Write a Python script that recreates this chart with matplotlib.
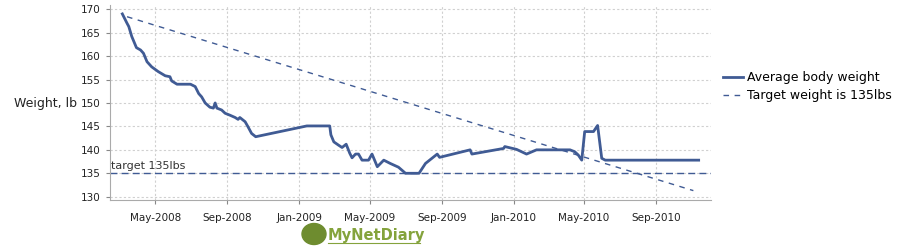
import matplotlib
matplotlib.use("Agg")
import matplotlib.dates as mdates
import matplotlib.pyplot as plt
import pandas as pd
from matplotlib.patches import Ellipse

# average body weight readings
weight_dates = [
    "2008-03-06", "2008-03-14", "2008-03-17", "2008-03-22", "2008-03-26", "2008-03-30",
    "2008-04-06", "2008-04-11", "2008-04-17", "2008-04-25", "2008-05-06", "2008-05-18",
    "2008-05-26", "2008-05-29", "2008-06-07", "2008-06-30", "2008-07-08", "2008-07-14",
    "2008-07-19", "2008-07-25", "2008-08-02", "2008-08-08", "2008-08-11", "2008-08-14",
    "2008-08-22", "2008-08-28", "2008-09-05", "2008-09-14", "2008-09-19", "2008-09-22",
    "2008-10-01", "2008-10-06", "2008-10-12", "2008-10-19", "2009-01-14", "2009-02-22",
    "2009-02-24", "2009-03-01", "2009-03-09", "2009-03-15", "2009-03-22", "2009-03-28",
    "2009-04-01", "2009-04-07", "2009-04-12", "2009-04-18", "2009-04-29", "2009-05-05",
    "2009-05-14", "2009-05-25", "2009-06-05", "2009-06-19", "2009-07-01", "2009-07-24",
    "2009-08-04", "2009-08-18", "2009-08-24", "2009-08-28", "2009-10-19", "2009-10-22",
    "2009-12-15", "2009-12-17", "2010-01-06", "2010-01-23", "2010-02-09", "2010-02-15",
    "2010-04-07", "2010-04-15", "2010-04-21", "2010-04-27", "2010-05-02", "2010-05-17",
    "2010-05-24", "2010-05-31", "2010-06-06", "2010-11-12",
]
weights = [
    169.0, 167.0, 166.3, 164.2, 163.0, 161.8,
    161.3, 160.6, 158.8, 157.7, 156.7, 155.8,
    155.6, 154.7, 154.0, 154.0, 153.5, 152.0,
    151.3, 150.0, 149.1, 148.9, 150.0, 148.9,
    148.5, 147.8, 147.4, 146.9, 146.5, 146.9,
    146.0, 144.9, 143.5, 142.8, 145.1, 145.1,
    143.2, 141.7, 141.0, 140.5, 141.2, 139.3,
    138.3, 139.1, 139.1, 137.8, 137.8, 139.1,
    136.4, 137.8, 137.1, 136.3, 135.0, 135.0,
    137.1, 138.5, 139.1, 138.4, 140.0, 139.1,
    140.3, 140.7, 140.1, 139.1, 140.0, 140.0,
    140.0, 139.6, 138.9, 137.8, 143.9, 143.9,
    145.2, 138.2, 137.8, 137.8,
]

# target line goes down from start weight to the goal
target_dates = ["2008-03-14", "2010-11-03"]
target_values = [168.4, 131.3]
goal = 135

yticks = [130, 135, 140, 145, 150, 155, 160, 165, 170]
xticks = ["2008-05-01", "2008-09-01", "2009-01-01", "2009-05-01",
          "2009-09-01", "2010-01-01", "2010-05-01", "2010-09-01"]

blue = "#405b94"
grey = "#888888"

fig = plt.figure(figsize=(9.02, 2.49), dpi=100)
ax = fig.add_axes([110 / 902, 1 - 200 / 249, 601 / 902, 195 / 249])

ax.plot(pd.to_datetime(weight_dates), weights, color=blue, lw=2,
        solid_joinstyle="round", label="Average body weight")
ax.plot(pd.to_datetime(target_dates), target_values, color=blue, lw=1,
        ls=(0, (4, 4)), label="Target weight is 135lbs")
ax.axhline(goal, color=blue, lw=1, ls=(0, (5, 3)))
ax.text(pd.Timestamp("2008-02-16"), goal + 0.4, "target 135lbs",
        fontsize=8, color="#333333", va="bottom", ha="left")

ax.set_xlim(pd.Timestamp("2008-02-14"), pd.Timestamp("2010-12-03"))
ax.set_ylim(129.3, 170.9)
ax.set_yticks(yticks)
ax.set_xticks(pd.to_datetime(xticks))
ax.xaxis.set_major_formatter(mdates.DateFormatter("%b-%Y"))
ax.tick_params(labelsize=7.5, colors=grey, labelcolor="#222222", length=3)
ax.tick_params(axis="x", pad=6)
ax.grid(True, color="#d0d0d0", ls=(0, (2, 2)), lw=0.8)

for side in ["top", "right"]:
    ax.spines[side].set_visible(False)
for side in ["left", "bottom"]:
    ax.spines[side].set_color("#aaaaaa")

fig.text(14 / 902, 1 - 103 / 249, "Weight, lb", fontsize=9,
         ha="left", va="center", color="#222222")

fig.legend(loc="upper left", bbox_to_anchor=(718 / 902, 1 - 66 / 249),
           frameon=False, fontsize=9, handlelength=1.6, handletextpad=0.3,
           labelspacing=0.4, borderaxespad=0)

# MyNetDiary logo
fig.add_artist(Ellipse((314 / 902, 1 - 234 / 249), 24 / 902, 21 / 249,
                       transform=fig.transFigure, color="#6e8c2f"))
fig.text(328 / 902, 1 - 235 / 249, "MyNetDiary", fontsize=10.5, fontweight="bold",
         family=["Liberation Sans Narrow", "DejaVu Sans"], color="#84a33c",
         ha="left", va="center")
fig.add_artist(plt.Line2D([328 / 902, 420 / 902], [1 - 243 / 249, 1 - 243 / 249],
                          transform=fig.transFigure, color="#84a33c", lw=0.8))

fig.savefig("out.png", dpi=100)
